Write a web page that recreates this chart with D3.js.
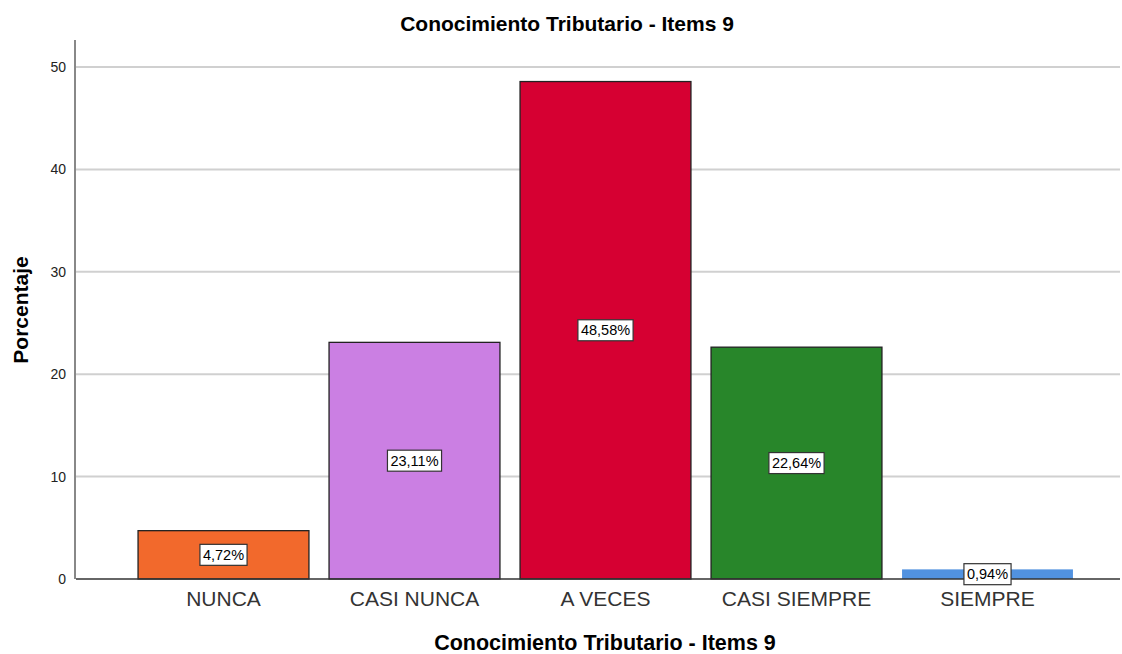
<!DOCTYPE html>
<html><head><meta charset="utf-8">
<script src="https://cdn.jsdelivr.net/npm/d3@7"></script>
<style>body{margin:0;background:#fff}svg{display:block}text{font-family:"Liberation Sans",Arial,sans-serif}</style>
</head><body><svg id="c" width="1122" height="654"></svg>
<script>
const categories = ["NUNCA","CASI NUNCA","A VECES","CASI SIEMPRE","SIEMPRE"];
const values = [4.72, 23.11, 48.58, 22.64, 0.94];
const labels = ["4,72%","23,11%","48,58%","22,64%","0,94%"];
const colors = ["#f2692c","#cb7fe3","#d60032","#28862a","#5192e0"];
const yTicks = [0,10,20,30,40,50];

const svg = d3.select("#c");
const x = d3.scaleBand().domain(categories).range([128,1083]).paddingInner(0.1).paddingOuter(0.05);
const y = d3.scaleLinear().domain([0,50]).range([579,67]);

// gridlines
svg.append("g").selectAll("line").data(yTicks.filter(d=>d>0)).join("line")
  .attr("x1",76).attr("x2",1120).attr("y1",d=>y(d)).attr("y2",d=>y(d))
  .attr("stroke","#d0d0d0").attr("stroke-width",2);

// y axis
const ya = svg.append("g").attr("transform","translate(75,0)").call(d3.axisLeft(y).tickValues(yTicks).tickSize(0).tickPadding(9));
ya.select(".domain").remove();
ya.selectAll("text").attr("font-size",14).attr("fill","#222").attr("font-family","Liberation Sans, Arial, sans-serif");
svg.append("line").attr("x1",75).attr("x2",75).attr("y1",40).attr("y2",579).attr("stroke","#888").attr("stroke-width",2);

// bars
svg.append("g").selectAll("rect").data(values).join("rect")
  .attr("x",(d,i)=>x(categories[i])+0.5).attr("width",x.bandwidth()-1)
  .attr("y",d=>y(d)).attr("height",d=>y(0)-y(d))
  .attr("fill",(d,i)=>colors[i])
  .attr("stroke",(d,i)=>i===4?"none":"#222").attr("stroke-width",1.3);

// x axis line
svg.append("line").attr("x1",76).attr("x2",1120).attr("y1",579).attr("y2",579).attr("stroke","#333").attr("stroke-width",1.5);

const xa = svg.append("g").attr("transform","translate(0,579)").call(d3.axisBottom(x).tickSize(0).tickPadding(12));
xa.select(".domain").remove();
xa.selectAll("text").attr("font-size",21).attr("fill","#333").attr("font-family","Liberation Sans, Arial, sans-serif");

// value labels
const lg = svg.append("g").selectAll("g").data(values).join("g")
  .attr("transform",(d,i)=>`translate(${x(categories[i])+x.bandwidth()/2},${(y(d)+y(0))/2})`);
lg.each(function(d,i){
  const g = d3.select(this);
  const t = g.append("text").attr("text-anchor","middle").attr("dy","0.35em").attr("font-size",14.5).attr("fill","#000").text(labels[i]);
  const w = t.node().getComputedTextLength();
  g.insert("rect","text").attr("x",-w/2-3).attr("y",-10.5).attr("width",w+6).attr("height",21)
    .attr("fill","#fff").attr("stroke","#333").attr("stroke-width",1.2);
});

// titles
svg.append("text").attr("x",567).attr("y",31).attr("text-anchor","middle").attr("font-size",21).attr("font-weight","bold").text("Conocimiento Tributario - Items 9");
svg.append("text").attr("x",605).attr("y",650).attr("text-anchor","middle").attr("font-size",21.5).attr("font-weight","bold").text("Conocimiento Tributario - Items 9");
svg.append("text").attr("transform","translate(28,310) rotate(-90)").attr("text-anchor","middle").attr("font-size",21).attr("font-weight","bold").text("Porcentaje");
</script></body></html>
